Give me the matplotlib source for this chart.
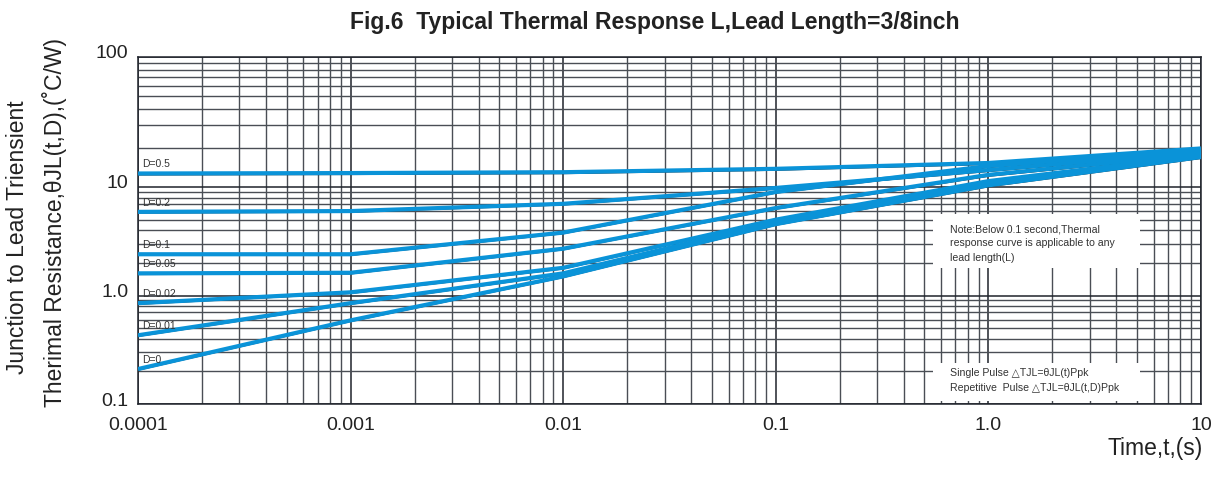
import numpy as np
import matplotlib
matplotlib.use('Agg')
import matplotlib.pyplot as plt
from matplotlib.ticker import FixedLocator, FixedFormatter, LogLocator, NullFormatter
from matplotlib.transforms import ScaledTranslation

plt.rcParams['font.family'] = ['Liberation Sans', 'DejaVu Sans']

# values (t in seconds, theta in C/W)
time_s = [1e-4, 1e-3, 1e-2, 0.1, 1.0, 10.0]
theta_d050 = [12.7, 12.8, 13.0, 13.8, 15.3, 19.8]
theta_d020 = [5.9, 6.0, 7.0, 9.8, 13.5, 18.6]
theta_d010 = [2.4, 2.4, 3.8, 9.0, 14.5, 19.2]
theta_d005 = [1.6, 1.62, 2.7, 6.4, 12.4, 18.0]
theta_d002 = [0.85, 1.07, 1.8, 5.0, 11.1, 17.5]
theta_d001 = [0.43, 0.85, 1.6, 4.75, 10.5, 17.2]
theta_d000 = [0.21, 0.59, 1.5, 4.55, 10.3, 17.0]
duty_labels = ['D=0.5', 'D=0.2', 'D=0.1', 'D=0.05', 'D=0.02', 'D=0.01', 'D=0']
curves = [theta_d050, theta_d020, theta_d010, theta_d005, theta_d002, theta_d001, theta_d000]

x_ticks = [1e-4, 1e-3, 1e-2, 0.1, 1.0, 10.0]
x_ticklabels = ['0.0001', '0.001', '0.01', '0.1', '1.0', '10']
y_ticks = [0.1, 1.0, 10.0, 100.0]
y_ticklabels = ['0.1', '1.0', '10', '100']

BLUE = '#0a93d8'
GRID_DARK = '#1f232b'
GRID_MID = '#4a4e55'
TXT = '#222222'

# the printed chart has a taller top decade, so stretch the scale above 10
K = 130 / 108.5


def fwd(v):
    L = np.log10(np.clip(v, 1e-12, None))
    return np.where(L > 1, 1 + (L - 1) * K, L)


def inv(f):
    f = np.asarray(f, dtype=float)
    return 10 ** np.where(f > 1, 1 + (f - 1) / K, f)


fig = plt.figure(figsize=(12.22, 4.93), dpi=100)
ax = fig.add_axes([138 / 1222, 1 - 404 / 493, (1201 - 138) / 1222, (404 - 57) / 493])

ax.set_xscale('log')
ax.set_yscale('function', functions=(fwd, inv))
ax.set_xlim(1e-4, 10)
ax.set_ylim(0.1, 100)

ax.xaxis.set_major_locator(FixedLocator(x_ticks))
ax.xaxis.set_major_formatter(FixedFormatter(x_ticklabels))
ax.xaxis.set_minor_locator(LogLocator(base=10, subs=np.arange(2, 10)))
ax.xaxis.set_minor_formatter(NullFormatter())
ax.yaxis.set_major_locator(FixedLocator(y_ticks))
ax.yaxis.set_major_formatter(FixedFormatter(y_ticklabels))
ax.yaxis.set_minor_locator(LogLocator(base=10, subs=np.arange(2, 10)))
ax.yaxis.set_minor_formatter(NullFormatter())

ax.set_axisbelow(True)
ax.grid(which='major', color=GRID_DARK, lw=1.1)
ax.grid(which='minor', color=GRID_MID, lw=1.0)
ax.tick_params(which='both', length=0, labelsize=14, colors=TXT)
ax.tick_params(axis='x', pad=9)
ax.tick_params(axis='y', pad=7)
for sp in ax.spines.values():
    sp.set_color(GRID_DARK)
    sp.set_linewidth(1.1)

# curves: faint dark edge under the thick blue line, like the scan
for lbl, vals in zip(duty_labels, curves):
    ax.plot(time_s, np.array(vals) * 0.972, color='#1a1a1a', lw=0.6, zorder=3)
    ax.plot(time_s, vals, color=BLUE, lw=3.0, zorder=4, solid_capstyle='butt')
    ax.annotate(lbl, xy=(time_s[0], vals[0]), xytext=(3, 3), textcoords='offset points',
                fontsize=7.5, color='#333333', ha='left', va='bottom', zorder=5)

# white note boxes
box_x = (933 - 138) / 1063
box_w = (1140 - 933) / 1063
ax.add_patch(plt.Rectangle((box_x, (404 - 268) / 347), box_w, (268 - 214) / 347,
                           transform=ax.transAxes, facecolor='white', edgecolor='none', zorder=2))
ax.add_patch(plt.Rectangle((box_x, (404 - 401) / 347), box_w, (401 - 363) / 347,
                           transform=ax.transAxes, facecolor='white', edgecolor='none', zorder=2))

ax.text((950 - 138) / 1063, (404 - 224) / 347,
        'Note:Below 0.1 second,Thermal\nresponse curve is applicable to any\nlead length(L)',
        transform=ax.transAxes, fontsize=7.6, color='#333333', ha='left', va='top',
        linespacing=1.55, zorder=5)
ax.text((950 - 138) / 1063, (404 - 368) / 347,
        'Single Pulse \u25b3TJL=\u03b8JL(t)Ppk\nRepetitive  Pulse \u25b3TJL=\u03b8JL(t,D)Ppk',
        transform=ax.transAxes, fontsize=7.6, color='#333333', ha='left', va='top',
        linespacing=1.65, zorder=5)

# y tick labels sit a little above their grid lines in the original
shift = ScaledTranslation(0, 5 / 100, fig.dpi_scale_trans)
for t in ax.get_yticklabels():
    t.set_transform(t.get_transform() + shift)

fig.text(655 / 1222, 1 - 22 / 493, 'Fig.6  Typical Thermal Response L,Lead Length=3/8inch',
         ha='center', va='center', fontsize=16.5, fontweight='bold', color=TXT)
fig.text(18 / 1222, 1 - 237 / 493, 'Junction to Lead Triensient', rotation=90,
         ha='center', va='center', fontsize=16.5, color=TXT)
fig.text(55 / 1222, 1 - 222 / 493, 'Therimal Resistance,\u03b8JL(t,D),(\u02daC/W)', rotation=90,
         ha='center', va='center', fontsize=16.5, color=TXT)
fig.text(1155 / 1222, 1 - 448 / 493, 'Time,t,(s)', ha='center', va='center',
         fontsize=16.5, color=TXT)

fig.savefig('out.png', dpi=100)
